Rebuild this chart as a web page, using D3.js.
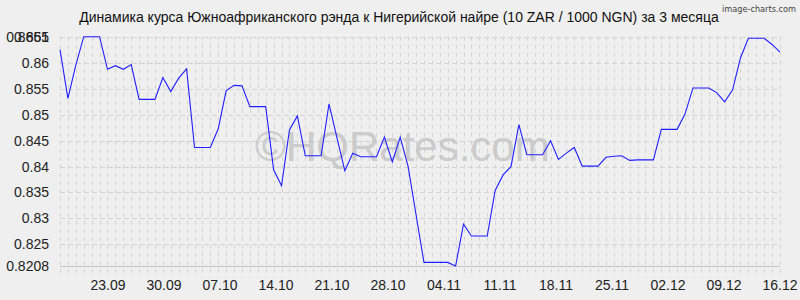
<!DOCTYPE html>
<html>
<head>
<meta charset="utf-8">
<script src="https://cdn.jsdelivr.net/npm/d3@7"></script>
<style>
  body { margin: 0; background: #efefef; }
  svg { display: block; }
</style>
</head>
<body>
<svg class="viz" width="800" height="300"></svg>
<script>
// rate values, one per day from 16.09 to 16.12
var rates = [
  0.8626, 0.8532, 0.8596, 0.8651, 0.8651, 0.8651, 0.8588, 0.8595, 0.8588, 0.8597,
  0.8530, 0.8530, 0.8530, 0.8572, 0.8545, 0.8571, 0.8589, 0.8437, 0.8437, 0.8437,
  0.8473, 0.8547, 0.8557, 0.8556, 0.8516, 0.8516, 0.8516, 0.8394, 0.8363, 0.8471,
  0.8498, 0.8421, 0.8421, 0.8421, 0.8521, 0.8456, 0.8392, 0.8426, 0.8419, 0.8419,
  0.8419, 0.8457, 0.8409, 0.8457, 0.8400, 0.8307, 0.8215, 0.8215, 0.8215, 0.8215,
  0.8208, 0.8289, 0.8266, 0.8266, 0.8266, 0.8354, 0.8384, 0.8400, 0.8481, 0.8423,
  0.8423, 0.8423, 0.8450, 0.8414, 0.8426, 0.8437, 0.8401, 0.8401, 0.8401, 0.8418,
  0.8420, 0.8421, 0.8412, 0.8413, 0.8413, 0.8413, 0.8472, 0.8472, 0.8472, 0.8502,
  0.8552, 0.8552, 0.8552, 0.8543, 0.8525, 0.8548, 0.8610, 0.8648, 0.8648, 0.8648,
  0.8636, 0.8621
];

var xLabels = ["23.09", "30.09", "07.10", "14.10", "21.10", "28.10", "04.11",
               "11.11", "18.11", "25.11", "02.12", "09.12", "16.12"];
var labelDays = [6, 13, 20, 27, 34, 41, 48, 55, 62, 69, 76, 83, 90];

var yTicks = [0.8208, 0.825, 0.83, 0.835, 0.84, 0.845, 0.85, 0.855, 0.86, 0.865, 0.8651];

var title = "Динамика курса Южноафриканского рэнда к Нигерийской найре (10 ZAR / 1000 NGN) за 3 месяца";

var svg = d3.select(".viz"),
    plotLeft = 60, plotRight = 780, plotTop = 36.7, plotBottom = 266;

var scaleX = d3.scaleLinear()
    .domain([0, rates.length - 1])
    .range([plotLeft, plotRight]);

// labels sit on their own day axis (90 days to the right edge)
var labelX = d3.scaleLinear()
    .domain([0, 90])
    .range([plotLeft, plotRight]);

var scaleY = d3.scaleLinear()
    .domain([0.8208, 0.8651])
    .range([plotBottom, plotTop]);

// grid
svg.append("g")
  .selectAll("line")
  .data(d3.range(rates.length))
  .enter()
  .append("line")
    .attr("x1", function (d) { return Math.round(scaleX(d)) + 0.5; })
    .attr("x2", function (d) { return Math.round(scaleX(d)) + 0.5; })
    .attr("y1", plotTop)
    .attr("y2", plotBottom + 11)
    .style("stroke", "#d2d2d2")
    .style("stroke-width", "1px")
    .style("stroke-dasharray", "4,4");

svg.append("g")
  .selectAll("line")
  .data(yTicks)
  .enter()
  .append("line")
    .attr("x1", plotLeft)
    .attr("x2", plotRight)
    .attr("y1", function (d) { return Math.round(scaleY(d)) + 0.5; })
    .attr("y2", function (d) { return Math.round(scaleY(d)) + 0.5; })
    .style("stroke", function (d, i) { return i == 0 ? "#c6c6c6" : "#d2d2d2"; })
    .style("stroke-width", "1px")
    .style("stroke-dasharray", function (d, i) { return i == 0 ? null : "5,3"; });

// watermark
svg.append("text")
    .text("©HQRates.com")
    .attr("x", 255)
    .attr("y", 161)
    .attr("font-family", "Liberation Sans, Arial, sans-serif")
    .attr("font-size", "42px")
    .attr("fill", "#c4c4c4")
    .attr("opacity", 0.8);

// y labels
svg.append("g")
  .selectAll("text")
  .data(yTicks)
  .enter()
  .append("text")
    .text(function (d) { return d; })
    .attr("x", 49)
    .attr("y", function (d) { return scaleY(d); })
    .attr("dy", "0.35em")
    .attr("text-anchor", "end")
    .attr("font-family", "Liberation Sans, Arial, sans-serif")
    .attr("font-size", "14px")
    .attr("fill", "#222");

// x labels
svg.append("g")
  .selectAll("text")
  .data(xLabels)
  .enter()
  .append("text")
    .text(function (d) { return d; })
    .attr("x", function (d, i) { return labelX(labelDays[i]); })
    .attr("y", 290)
    .attr("text-anchor", "middle")
    .attr("font-family", "Liberation Sans, Arial, sans-serif")
    .attr("font-size", "14px")
    .attr("fill", "#222");

// rate line
var line = d3.line()
    .x(function (d, i) { return scaleX(i); })
    .y(function (d) { return scaleY(d); });

svg.append("path")
    .datum(rates)
    .attr("d", line)
    .style("fill", "none")
    .style("stroke", "#1f1fff")
    .style("stroke-width", "1.1px");

// title
svg.append("text")
    .text(title)
    .attr("x", 399)
    .attr("y", 22)
    .attr("text-anchor", "middle")
    .attr("font-family", "Liberation Sans, Arial, sans-serif")
    .attr("font-size", "14px")
    .attr("fill", "#111");

svg.append("text")
    .text("image-charts.com")
    .attr("x", 722)
    .attr("y", 12)
    .attr("textLength", 74)
    .attr("lengthAdjust", "spacingAndGlyphs")
    .attr("font-family", "DejaVu Sans Condensed, sans-serif")
    .attr("font-size", "9px")
    .attr("fill", "#444");
</script>
</body>
</html>
